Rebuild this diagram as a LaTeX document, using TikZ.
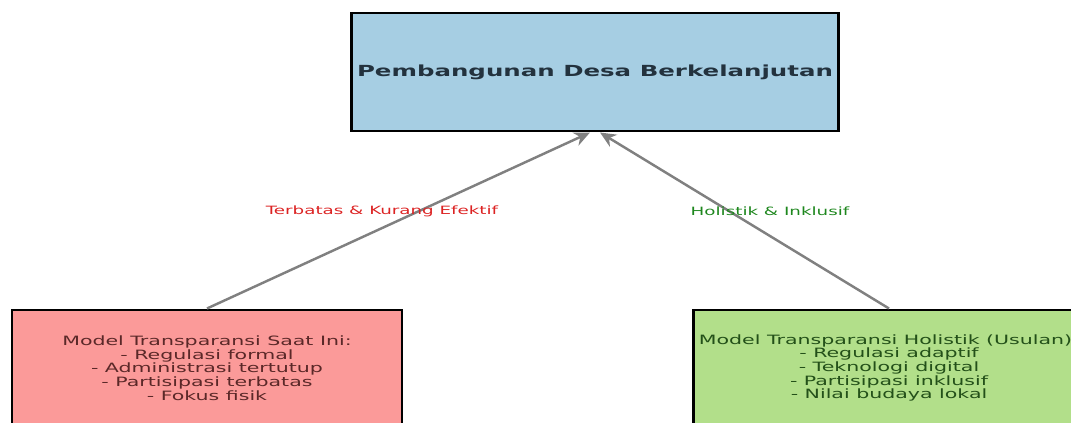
\documentclass[tikz,border=0pt]{standalone}
\usepackage{fontspec}
\setmainfont{DejaVu Sans}[FakeStretch=1.6]
\usetikzlibrary{arrows.meta}
\definecolor{topblue}{RGB}{166,206,227}
\definecolor{oldred}{RGB}{251,154,153}
\definecolor{newgreen}{RGB}{178,223,138}
\definecolor{arrowgray}{RGB}{128,128,128}
\definecolor{titleink}{RGB}{35,50,62}
\definecolor{redink}{RGB}{90,40,40}
\definecolor{greenink}{RGB}{35,80,25}
\definecolor{redlabel}{RGB}{220,35,35}
\definecolor{greenlabel}{RGB}{30,135,30}
\tikzset{
  modelbox/.style={draw=black, line width=1.7pt, minimum width=7.8cm, minimum height=2.32cm,
    align=center, font=\fontsize{7.3}{7.8}\selectfont},
  link/.style={draw=arrowgray, line width=1.4pt, -{Stealth[length=9pt,width=8pt]}},
  linklabel/.style={font=\fontsize{6.5}{7.5}\selectfont}
}
\begin{document}
\begin{tikzpicture}
        \useasboundingbox (0,0) rectangle (21.42,-8.46);
        \node[draw=black, line width=1.7pt, fill=topblue, minimum width=9.72cm, minimum height=2.36cm,
          text=titleink, font=\fontsize{8.7}{10}\selectfont\bfseries] (goal) at (11.90,-1.44)
          {Pembangunan Desa Berkelanjutan};

        \node[modelbox, fill=oldred, text=redink] (current) at (4.14,-7.36)
          {Model Transparansi Saat Ini:\\- Regulasi formal\\- Administrasi tertutup\\- Partisipasi terbatas\\- Fokus fisik};
        \node[modelbox, fill=newgreen, text=greenink] (holistic) at (17.78,-7.36)
          {Model Transparansi Holistik (Usulan):\\- Regulasi adaptif\\- Teknologi digital\\- Partisipasi inklusif\\- Nilai budaya lokal};

        \draw[link] (current.north) -- ([xshift=-0.1cm]goal.south);
        \draw[link] (holistic.north) -- ([xshift=0.1cm]goal.south);

        \node[linklabel, text=redlabel] (weak) at (7.64,-4.22) {Terbatas \& Kurang Efektif};
        \node[linklabel, text=greenlabel] (strong) at (15.40,-4.22) {Holistik \& Inklusif};
      \end{tikzpicture}
\end{document}
